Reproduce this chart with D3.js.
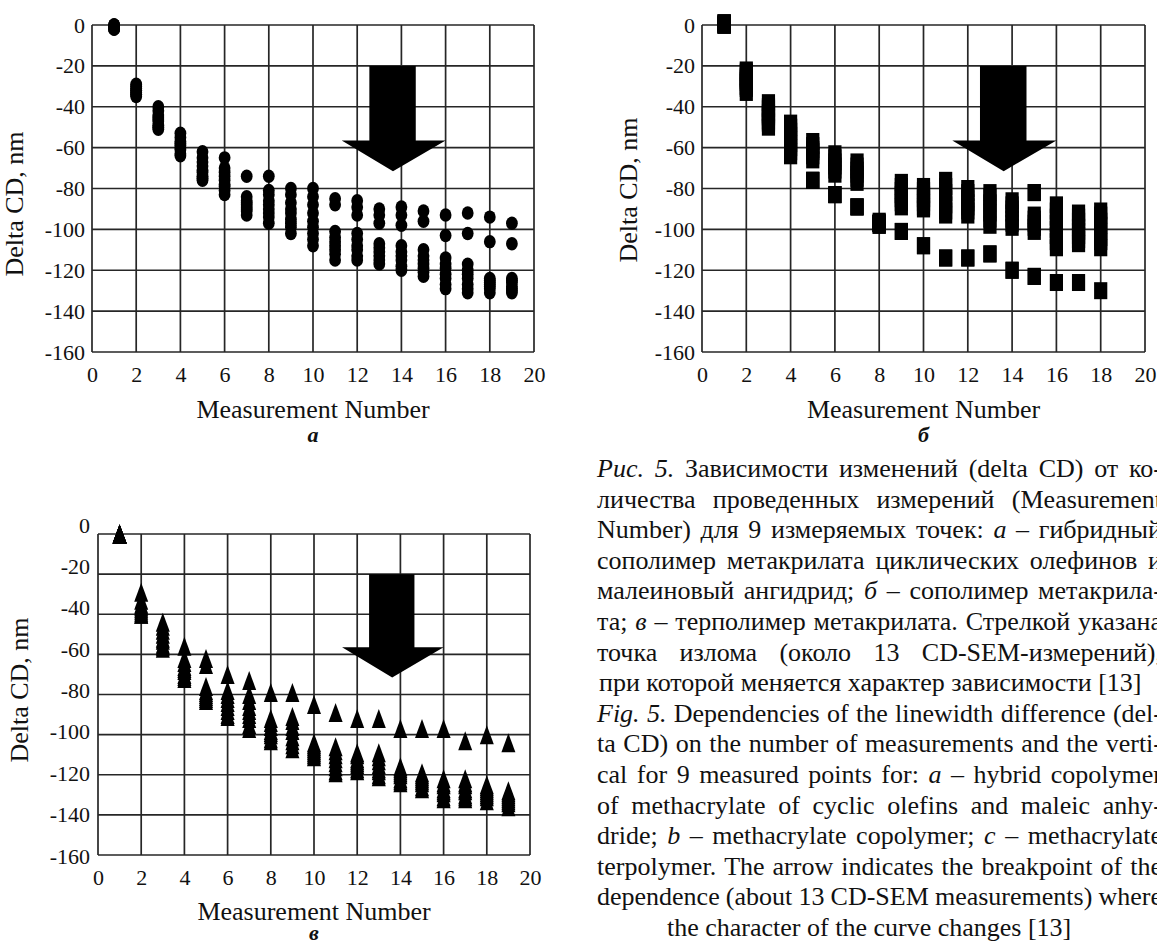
<!DOCTYPE html>
<html>
<head>
<meta charset="utf-8">
<script src="https://cdn.jsdelivr.net/npm/d3@7"></script>
<style>
  body { margin: 0; background: #fff; overflow: hidden; }
  svg { display: block; font-family: "Liberation Serif", "Times New Roman", serif; }
</style>
</head>
<body>
<svg id="fig" width="1157" height="943"></svg>
<script>
// Axis ticks shared by all three panels
const xTicks = [0, 2, 4, 6, 8, 10, 12, 14, 16, 18, 20];
const yTicks = [0, -20, -40, -60, -80, -100, -120, -140, -160];

// Measurement numbers for panels а and в (1..19) and б (1..18)
const measurementsA = [1, 2, 3, 4, 5, 6, 7, 8, 9, 10, 11, 12, 13, 14, 15, 16, 17, 18, 19];
const measurementsB = [1, 2, 3, 4, 5, 6, 7, 8, 9, 10, 11, 12, 13, 14, 15, 16, 17, 18];
const measurementsC = [1, 2, 3, 4, 5, 6, 7, 8, 9, 10, 11, 12, 13, 14, 15, 16, 17, 18, 19];

// Delta CD (nm) of the 9 measured points, one row per measurement number
// а – hybrid copolymer (methacrylate of cyclic olefins + maleic anhydride)
const deltaHybrid = [
  [0, 0, 0, -1, -1, -1, -2, -2, -2],
  [-29, -30, -31, -32, -32, -33, -34, -34, -35],
  [-40, -42, -44, -45, -46, -47, -49, -50, -51],
  [-53, -55, -57, -58, -59, -60, -61, -63, -64],
  [-62, -65, -67, -69, -71, -72, -74, -75, -76],
  [-65, -70, -72, -74, -76, -78, -79, -81, -83],
  [-74, -84, -86, -87, -88, -89, -90, -91, -93],
  [-74, -81, -83, -86, -88, -90, -92, -94, -97],
  [-80, -83, -87, -90, -92, -95, -97, -99, -102],
  [-80, -84, -88, -92, -96, -99, -102, -105, -108],
  [-85, -88, -101, -104, -106, -108, -110, -112, -115],
  [-86, -89, -93, -102, -105, -108, -110, -113, -115],
  [-90, -93, -97, -107, -109, -111, -113, -115, -117],
  [-89, -93, -98, -108, -111, -113, -115, -118, -120],
  [-91, -96, -110, -113, -115, -117, -119, -121, -123],
  [-93, -103, -114, -117, -119, -122, -124, -127, -129],
  [-92, -102, -117, -120, -122, -124, -127, -129, -131],
  [-94, -106, -124, -125, -126, -127, -128, -129, -131],
  [-97, -107, -124, -125, -126, -128, -129, -130, -131]
];

// б – methacrylate copolymer
const deltaCopolymer = [
  [1, 1, 1, 1, 0, 0, 0, 0, 0],
  [-22, -23, -25, -26, -27, -28, -30, -31, -33],
  [-38, -40, -41, -43, -44, -45, -47, -48, -50],
  [-48, -50, -52, -54, -56, -58, -60, -62, -64],
  [-57, -59, -61, -62, -64, -66, -76, -76, -76],
  [-63, -65, -67, -69, -71, -73, -83, -83, -83],
  [-67, -69, -71, -73, -75, -77, -89, -89, -89],
  [-96, -97, -97, -97, -97, -97, -97, -98, -98],
  [-77, -79, -81, -83, -85, -87, -89, -101, -101],
  [-79, -81, -83, -85, -87, -89, -90, -108, -108],
  [-76, -79, -82, -85, -88, -91, -93, -114, -114],
  [-80, -82, -85, -87, -89, -91, -93, -114, -114],
  [-82, -84, -87, -90, -92, -95, -98, -112, -112],
  [-86, -88, -90, -92, -95, -97, -99, -120, -120],
  [-82, -82, -93, -95, -97, -99, -101, -123, -123],
  [-88, -91, -94, -97, -100, -103, -106, -109, -126],
  [-92, -94, -96, -99, -101, -103, -105, -107, -126],
  [-91, -93, -96, -98, -101, -104, -106, -109, -130]
];

// в – methacrylate terpolymer
const deltaTerpolymer = [
  [0, 0, 0, 0, 0, 0, 0, 0, 0],
  [-29, -33, -35, -36, -37, -38, -39, -40, -40],
  [-44, -46, -48, -50, -52, -53, -55, -56, -57],
  [-56, -62, -64, -66, -67, -68, -70, -71, -72],
  [-62, -65, -76, -78, -79, -80, -81, -82, -83],
  [-70, -78, -80, -82, -84, -86, -88, -90, -91],
  [-73, -80, -83, -86, -88, -90, -92, -95, -97],
  [-79, -92, -94, -96, -98, -99, -100, -102, -103],
  [-79, -91, -93, -96, -98, -101, -103, -105, -107],
  [-85, -104, -105, -106, -107, -108, -109, -110, -111],
  [-89, -106, -108, -110, -112, -114, -116, -118, -119],
  [-92, -109, -110, -112, -113, -114, -115, -117, -118],
  [-92, -109, -111, -113, -115, -117, -118, -120, -121],
  [-97, -116, -117, -118, -119, -120, -122, -123, -124],
  [-97, -119, -120, -121, -122, -123, -124, -126, -127],
  [-97, -122, -124, -125, -127, -128, -129, -131, -132],
  [-103, -122, -124, -125, -127, -128, -130, -131, -132],
  [-100, -125, -126, -127, -128, -129, -130, -131, -133],
  [-104, -128, -129, -130, -131, -132, -133, -134, -136]
];

const xTitle = "Measurement Number";
const yTitle = "Delta CD, nm";

// Figure caption (Russian + English); "_" marks an italic word
const captionLines = [
  { words: ["_Рис.", "_5.", "Зависимости", "изменений", "(delta", "CD)", "от", "ко-"], justify: true },
  { words: ["личества", "проведенных", "измерений", "(Measurement"], justify: true },
  { words: ["Number)", "для", "9", "измеряемых", "точек:", "_а", "–", "гибридный"], justify: true },
  { words: ["сополимер", "метакрилата", "циклических", "олефинов", "и"], justify: true },
  { words: ["малеиновый", "ангидрид;", "_б", "–", "сополимер", "метакрила-"], justify: true },
  { words: ["та;", "_в", "–", "терполимер", "метакрилата.", "Стрелкой", "указана"], justify: true },
  { words: ["точка", "излома", "(около", "13", "CD-SEM-измерений),"], justify: true },
  { words: ["при", "которой", "меняется", "характер", "зависимости", "[13]"], justify: false, indent: 2 },
  { words: ["_Fig.", "_5.", "Dependencies", "of", "the", "linewidth", "difference", "(del-"], justify: true },
  { words: ["ta", "CD)", "on", "the", "number", "of", "measurements", "and", "the", "verti-"], justify: true },
  { words: ["cal", "for", "9", "measured", "points", "for:", "_a", "–", "hybrid", "copolymer"], justify: true },
  { words: ["of", "methacrylate", "of", "cyclic", "olefins", "and", "maleic", "anhy-"], justify: true },
  { words: ["dride;", "_b", "–", "methacrylate", "copolymer;", "_c", "–", "methacrylate"], justify: true },
  { words: ["terpolymer.", "The", "arrow", "indicates", "the", "breakpoint", "of", "the"], justify: true },
  { words: ["dependence", "(about", "13", "CD-SEM", "measurements)", "where"], justify: true },
  { words: ["the", "character", "of", "the", "curve", "changes", "[13]"], justify: false, indent: 70 }
];

const svg = d3.select("#fig");
const ink = "#111";
const gridInk = "#262626";

// Down arrow marking the breakpoint, in data units (x, delta CD)
const arrowOutline = [
  [12.55, -20], [14.65, -20], [14.65, -56.5], [16.0, -56.5],
  [13.62, -71.5], [11.3, -56.5], [12.55, -56.5]
];

function drawPanel(cfg) {
  const x = d3.scaleLinear().domain([0, 20]).range([cfg.left, cfg.right]);
  const y = d3.scaleLinear().domain([0, -160]).range([cfg.top, cfg.bottom]);
  const yLabels = cfg.labelRange ? d3.scaleLinear().domain([0, -160]).range(cfg.labelRange) : y;
  const g = svg.append("g");

  // grid and frame
  const grid = g.append("g").attr("stroke", gridInk).attr("stroke-width", 1.7);
  grid.selectAll("line.v").data(xTicks).join("line").attr("class", "v")
    .attr("x1", d => x(d)).attr("x2", d => x(d))
    .attr("y1", y(0)).attr("y2", y(-160));
  grid.selectAll("line.h").data(yTicks).join("line").attr("class", "h")
    .attr("x1", x(0)).attr("x2", x(20))
    .attr("y1", d => y(d)).attr("y2", d => y(d));

  // tick labels (plain hyphen for negatives)
  const gx = g.append("g").attr("transform", `translate(0,${cfg.bottom})`)
    .call(d3.axisBottom(x).tickValues(xTicks).tickSize(0).tickPadding(cfg.xPad));
  gx.select(".domain").remove();
  gx.attr("font-family", null).attr("font-size", 22);
  gx.selectAll("text").attr("fill", ink);

  const gy = g.append("g").attr("transform", `translate(${cfg.left},0)`)
    .call(d3.axisLeft(yLabels).tickValues(yTicks).tickSize(0).tickPadding(cfg.yPad).tickFormat(d => String(d)));
  gy.select(".domain").remove();
  gy.attr("font-family", null).attr("font-size", 22);
  gy.selectAll("text").attr("fill", ink);

  // axis titles and panel letter
  g.append("text").attr("x", (cfg.left + cfg.right) / 2).attr("y", cfg.bottom + cfg.titleDy)
    .attr("text-anchor", "middle").attr("font-size", 26).attr("fill", ink).text(xTitle);
  g.append("text").attr("transform", `translate(${cfg.yTitleX},${cfg.yTitleY}) rotate(-90)`)
    .attr("text-anchor", "middle").attr("font-size", 26).attr("fill", ink).text(yTitle);
  g.append("text").attr("x", (cfg.left + cfg.right) / 2).attr("y", cfg.bottom + cfg.letterDy)
    .attr("text-anchor", "middle").attr("font-size", 22).attr("font-weight", "bold")
    .attr("font-style", "italic").attr("fill", ink).text(cfg.letter);

  // markers: 9 points per measurement number
  const pts = cfg.numbers.flatMap((n, i) => cfg.values[i].map(v => ({ n, v })));
  const mk = g.append("g").attr("fill", "#000");
  if (cfg.marker === "dot") {
    mk.selectAll("ellipse").data(pts).join("ellipse")
      .attr("cx", d => x(d.n)).attr("cy", d => y(d.v)).attr("rx", 5.9).attr("ry", 6.7);
  } else if (cfg.marker === "square") {
    mk.selectAll("rect").data(pts).join("rect")
      .attr("x", d => x(d.n) - 6.6).attr("y", d => y(d.v) - 8.5)
      .attr("width", 13.2).attr("height", 17);
  } else {
    mk.selectAll("path").data(pts).join("path")
      .attr("d", d => {
        const cx = x(d.n), cy = y(d.v);
        return `M${cx},${cy - 9.5}L${cx + 7},${cy + 9.5}L${cx - 7},${cy + 9.5}Z`;
      });
  }

  // breakpoint arrow
  g.append("path").attr("fill", "#000")
    .attr("d", d3.line().x(d => x(d[0])).y(d => y(d[1]))(arrowOutline) + "Z");
}

drawPanel({ left: 92, right: 534, top: 25, bottom: 352, xPad: 14, yPad: 7, titleDy: 66, letterDy: 90,
  yTitleX: 23, yTitleY: 204, letter: "а", marker: "dot", numbers: measurementsA, values: deltaHybrid });
drawPanel({ left: 702, right: 1145, top: 25, bottom: 352, xPad: 14, yPad: 7, titleDy: 66, letterDy: 90,
  yTitleX: 637, yTitleY: 190, letter: "б", marker: "square", numbers: measurementsB, values: deltaCopolymer });
drawPanel({ left: 98, right: 530, top: 534, bottom: 855, xPad: 14, yPad: 8, titleDy: 65, letterDy: 85,
  labelRange: [525, 856], yTitleX: 28, yTitleY: 690, letter: "в", marker: "triangle",
  numbers: measurementsC, values: deltaTerpolymer });

// caption block, justified between the column edges
const capLeft = 597, capRight = 1162, capFirstBase = 477, capGap = 30.6;
const cap = svg.append("g").attr("font-size", 26).attr("fill", ink);
captionLines.forEach((line, i) => {
  const yb = capFirstBase + i * capGap;
  const left = capLeft + (line.indent || 0);
  const nodes = line.words.map(w => {
    const it = w.startsWith("_");
    return cap.append("text").attr("y", yb).attr("font-style", it ? "italic" : null).text(it ? w.slice(1) : w);
  });
  const widths = nodes.map(n => n.node().getComputedTextLength());
  const total = d3.sum(widths);
  const gap = line.justify ? (capRight - left - total) / (nodes.length - 1) : 6.5;
  let xp = left;
  nodes.forEach((n, k) => { n.attr("x", xp); xp += widths[k] + gap; });
});
</script>
</body>
</html>
